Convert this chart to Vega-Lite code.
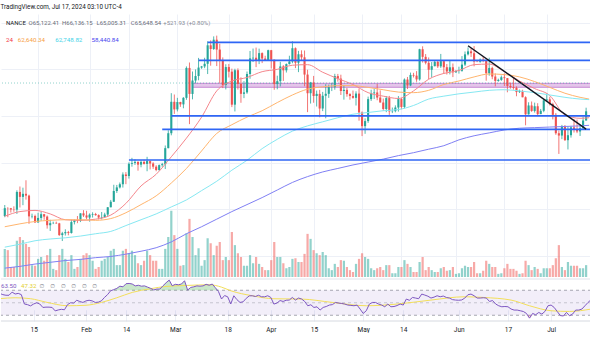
{
"$schema":"https://vega.github.io/schema/vega-lite/v6.json",
"padding":{"top":4,"left":0,"right":0,"bottom":0},
"background":"white",
"spacing":1,
"title":{"text":"TradingView.com, Jul 17, 2024 03:10 UTC-4","anchor":"start","fontSize":6.3,"font":"Roboto","fontWeight":"normal","color":"#131722","offset":3.7},
"config":{"view":{"stroke":null},"axis":{"domain":false,"ticks":false,"gridColor":"#edf0f7","gridWidth":1,"labelFont":"Roboto"}},
"datasets":{
"k":[
{"d":"2024-01-04","o":42.85,"h":44.73,"l":42.63,"c":44.19,"v":45},
{"d":"2024-01-05","o":44.19,"h":44.35,"l":42.63,"c":44.16,"v":43},
{"d":"2024-01-06","o":44.16,"h":44.23,"l":43.43,"c":43.97,"v":16},
{"d":"2024-01-07","o":43.97,"h":44.5,"l":43.57,"c":43.93,"v":16},
{"d":"2024-01-08","o":43.93,"h":47.25,"l":43.2,"c":46.97,"v":58},
{"d":"2024-01-09","o":46.97,"h":47.9,"l":44.3,"c":46.12,"v":64},
{"d":"2024-01-10","o":46.12,"h":47.7,"l":44.7,"c":46.65,"v":59},
{"d":"2024-01-11","o":46.65,"h":48.97,"l":45.65,"c":46.34,"v":53},
{"d":"2024-01-12","o":46.34,"h":46.5,"l":41.5,"c":42.78,"v":48},
{"d":"2024-01-13","o":42.78,"h":43.25,"l":42.44,"c":42.85,"v":19},
{"d":"2024-01-14","o":42.85,"h":43.08,"l":41.72,"c":41.73,"v":18},
{"d":"2024-01-15","o":41.73,"h":43.4,"l":41.72,"c":42.51,"v":29},
{"d":"2024-01-16","o":42.51,"h":43.58,"l":42.05,"c":43.15,"v":32},
{"d":"2024-01-17","o":43.15,"h":43.2,"l":42.2,"c":42.74,"v":26},
{"d":"2024-01-18","o":42.74,"h":42.93,"l":40.68,"c":41.26,"v":35},
{"d":"2024-01-19","o":41.26,"h":42.19,"l":40.28,"c":41.62,"v":45},
{"d":"2024-01-20","o":41.62,"h":41.87,"l":41.45,"c":41.66,"v":13},
{"d":"2024-01-21","o":41.66,"h":41.88,"l":41.5,"c":41.58,"v":11},
{"d":"2024-01-22","o":41.58,"h":41.67,"l":39.43,"c":39.57,"v":35},
{"d":"2024-01-23","o":39.57,"h":40.13,"l":38.55,"c":39.88,"v":45},
{"d":"2024-01-24","o":39.88,"h":40.56,"l":39.49,"c":40.08,"v":29},
{"d":"2024-01-25","o":40.08,"h":40.29,"l":39.53,"c":39.93,"v":24},
{"d":"2024-01-26","o":39.93,"h":42.2,"l":39.82,"c":41.8,"v":35},
{"d":"2024-01-27","o":41.8,"h":42.25,"l":41.4,"c":42.12,"v":13},
{"d":"2024-01-28","o":42.12,"h":42.84,"l":41.62,"c":42.03,"v":16},
{"d":"2024-01-29","o":42.03,"h":43.3,"l":41.8,"c":43.3,"v":29},
{"d":"2024-01-30","o":43.3,"h":43.84,"l":42.68,"c":42.94,"v":35},
{"d":"2024-01-31","o":42.94,"h":43.74,"l":42.27,"c":42.58,"v":38},
{"d":"2024-02-01","o":42.58,"h":43.29,"l":41.88,"c":43.08,"v":35},
{"d":"2024-02-02","o":43.08,"h":43.48,"l":42.58,"c":43.19,"v":26},
{"d":"2024-02-03","o":43.19,"h":43.38,"l":42.89,"c":42.99,"v":13},
{"d":"2024-02-04","o":42.99,"h":43.12,"l":42.26,"c":42.58,"v":16},
{"d":"2024-02-05","o":42.58,"h":43.53,"l":42.26,"c":42.66,"v":26},
{"d":"2024-02-06","o":42.66,"h":43.4,"l":42.57,"c":43.09,"v":29},
{"d":"2024-02-07","o":43.09,"h":44.38,"l":42.79,"c":44.34,"v":32},
{"d":"2024-02-08","o":44.34,"h":45.6,"l":44.33,"c":45.29,"v":42},
{"d":"2024-02-09","o":45.29,"h":48.2,"l":45.24,"c":47.13,"v":45},
{"d":"2024-02-10","o":47.13,"h":48.17,"l":46.8,"c":47.75,"v":19},
{"d":"2024-02-11","o":47.75,"h":48.59,"l":47.56,"c":48.29,"v":19},
{"d":"2024-02-12","o":48.29,"h":50.33,"l":47.72,"c":49.96,"v":42},
{"d":"2024-02-13","o":49.96,"h":50.37,"l":48.3,"c":49.7,"v":45},
{"d":"2024-02-14","o":49.7,"h":52.04,"l":49.26,"c":51.8,"v":38},
{"d":"2024-02-15","o":51.8,"h":52.82,"l":51.3,"c":51.94,"v":42},
{"d":"2024-02-16","o":51.94,"h":52.57,"l":51.6,"c":52.13,"v":35},
{"d":"2024-02-17","o":52.13,"h":52.2,"l":50.62,"c":51.65,"v":22},
{"d":"2024-02-18","o":51.65,"h":52.4,"l":51.2,"c":52.12,"v":19},
{"d":"2024-02-19","o":52.12,"h":52.49,"l":51.67,"c":51.78,"v":26},
{"d":"2024-02-20","o":51.78,"h":52.99,"l":50.52,"c":52.26,"v":42},
{"d":"2024-02-21","o":52.26,"h":52.37,"l":50.83,"c":51.85,"v":35},
{"d":"2024-02-22","o":51.85,"h":52.07,"l":50.93,"c":51.3,"v":26},
{"d":"2024-02-23","o":51.3,"h":51.55,"l":50.52,"c":50.73,"v":26},
{"d":"2024-02-24","o":50.73,"h":51.68,"l":50.58,"c":51.57,"v":13},
{"d":"2024-02-25","o":51.57,"h":51.96,"l":51.28,"c":51.73,"v":13},
{"d":"2024-02-26","o":51.73,"h":54.94,"l":50.9,"c":54.48,"v":45},
{"d":"2024-02-27","o":54.48,"h":57.55,"l":54.45,"c":57.04,"v":64},
{"d":"2024-02-28","o":57.04,"h":63.91,"l":56.68,"c":62.43,"v":106},
{"d":"2024-02-29","o":62.43,"h":63.68,"l":60.36,"c":61.13,"v":67},
{"d":"2024-03-01","o":61.13,"h":63.11,"l":60.78,"c":62.39,"v":45},
{"d":"2024-03-02","o":62.39,"h":62.43,"l":61.56,"c":61.99,"v":18},
{"d":"2024-03-03","o":61.99,"h":63.23,"l":61.32,"c":63.11,"v":19},
{"d":"2024-03-04","o":63.11,"h":68.5,"l":62.77,"c":68.24,"v":70},
{"d":"2024-03-05","o":68.24,"h":69.17,"l":58.6,"c":63.78,"v":93},
{"d":"2024-03-06","o":63.78,"h":67.63,"l":62.85,"c":66.08,"v":64},
{"d":"2024-03-07","o":66.08,"h":67.98,"l":65.6,"c":66.85,"v":35},
{"d":"2024-03-08","o":66.85,"h":69.96,"l":66.12,"c":68.3,"v":46},
{"d":"2024-03-09","o":68.3,"h":68.58,"l":68.08,"c":68.5,"v":18},
{"d":"2024-03-10","o":68.5,"h":69.98,"l":68.2,"c":68.95,"v":27},
{"d":"2024-03-11","o":68.95,"h":72.8,"l":67.19,"c":72.12,"v":62},
{"d":"2024-03-12","o":72.12,"h":72.97,"l":68.62,"c":71.48,"v":54},
{"d":"2024-03-13","o":71.48,"h":73.65,"l":71.33,"c":73.08,"v":35},
{"d":"2024-03-14","o":73.08,"h":73.78,"l":68.56,"c":71.39,"v":50},
{"d":"2024-03-15","o":71.39,"h":72.39,"l":65.63,"c":69.5,"v":56},
{"d":"2024-03-16","o":69.5,"h":70.04,"l":64.78,"c":65.3,"v":27},
{"d":"2024-03-17","o":65.3,"h":68.87,"l":64.55,"c":68.39,"v":32},
{"d":"2024-03-18","o":68.39,"h":68.92,"l":66.6,"c":67.6,"v":27},
{"d":"2024-03-19","o":67.6,"h":68.12,"l":61.52,"c":61.94,"v":72},
{"d":"2024-03-20","o":61.94,"h":68.1,"l":60.78,"c":67.85,"v":51},
{"d":"2024-03-21","o":67.85,"h":68.17,"l":64.53,"c":65.5,"v":38},
{"d":"2024-03-22","o":65.5,"h":66.63,"l":62.26,"c":63.8,"v":32},
{"d":"2024-03-23","o":63.8,"h":65.97,"l":63.06,"c":64.04,"v":18},
{"d":"2024-03-24","o":64.04,"h":67.62,"l":63.8,"c":67.2,"v":18},
{"d":"2024-03-25","o":67.2,"h":71.15,"l":66.38,"c":69.88,"v":35},
{"d":"2024-03-26","o":69.88,"h":71.56,"l":69.25,"c":69.99,"v":22},
{"d":"2024-03-27","o":69.99,"h":71.73,"l":68.38,"c":69.45,"v":32},
{"d":"2024-03-28","o":69.45,"h":71.55,"l":68.9,"c":70.78,"v":21},
{"d":"2024-03-29","o":70.78,"h":70.91,"l":69.07,"c":69.85,"v":16},
{"d":"2024-03-30","o":69.85,"h":70.33,"l":69.52,"c":69.58,"v":11},
{"d":"2024-03-31","o":69.58,"h":71.37,"l":69.56,"c":71.28,"v":11},
{"d":"2024-04-01","o":71.28,"h":71.33,"l":68.14,"c":69.65,"v":27},
{"d":"2024-04-02","o":69.65,"h":69.67,"l":64.49,"c":65.47,"v":56},
{"d":"2024-04-03","o":65.47,"h":66.91,"l":64.57,"c":65.97,"v":32},
{"d":"2024-04-04","o":65.97,"h":69.29,"l":65.07,"c":68.5,"v":32},
{"d":"2024-04-05","o":68.5,"h":68.72,"l":66.01,"c":67.83,"v":22},
{"d":"2024-04-06","o":67.83,"h":69.0,"l":67.45,"c":68.9,"v":14},
{"d":"2024-04-07","o":68.9,"h":70.33,"l":68.82,"c":69.35,"v":16},
{"d":"2024-04-08","o":69.35,"h":72.8,"l":69.04,"c":71.62,"v":29},
{"d":"2024-04-09","o":71.62,"h":71.76,"l":68.21,"c":69.13,"v":30},
{"d":"2024-04-10","o":69.13,"h":71.17,"l":67.52,"c":70.58,"v":24},
{"d":"2024-04-11","o":70.58,"h":71.26,"l":69.57,"c":70.06,"v":24},
{"d":"2024-04-12","o":70.06,"h":71.23,"l":65.09,"c":67.1,"v":37},
{"d":"2024-04-13","o":67.1,"h":67.93,"l":60.66,"c":63.9,"v":69},
{"d":"2024-04-14","o":63.9,"h":65.84,"l":62.13,"c":65.74,"v":61},
{"d":"2024-04-15","o":65.74,"h":66.87,"l":62.27,"c":63.42,"v":43},
{"d":"2024-04-16","o":63.42,"h":64.36,"l":61.62,"c":63.79,"v":38},
{"d":"2024-04-17","o":63.79,"h":64.48,"l":59.77,"c":61.28,"v":35},
{"d":"2024-04-18","o":61.28,"h":64.13,"l":60.83,"c":63.47,"v":40},
{"d":"2024-04-19","o":63.47,"h":65.45,"l":59.6,"c":63.8,"v":35},
{"d":"2024-04-20","o":63.8,"h":65.38,"l":63.1,"c":64.94,"v":14},
{"d":"2024-04-21","o":64.94,"h":65.7,"l":64.27,"c":64.94,"v":11},
{"d":"2024-04-22","o":64.94,"h":67.23,"l":64.5,"c":66.84,"v":21},
{"d":"2024-04-23","o":66.84,"h":67.21,"l":65.88,"c":66.41,"v":16},
{"d":"2024-04-24","o":66.41,"h":67.08,"l":63.6,"c":64.28,"v":27},
{"d":"2024-04-25","o":64.28,"h":65.29,"l":62.8,"c":64.48,"v":26},
{"d":"2024-04-26","o":64.48,"h":64.8,"l":63.3,"c":63.75,"v":16},
{"d":"2024-04-27","o":63.75,"h":63.9,"l":62.79,"c":63.42,"v":11},
{"d":"2024-04-28","o":63.42,"h":64.36,"l":62.96,"c":63.11,"v":8},
{"d":"2024-04-29","o":63.11,"h":64.23,"l":61.79,"c":63.84,"v":21},
{"d":"2024-04-30","o":63.84,"h":64.73,"l":59.19,"c":60.61,"v":29},
{"d":"2024-05-01","o":60.61,"h":60.78,"l":56.55,"c":58.25,"v":38},
{"d":"2024-05-02","o":58.25,"h":59.6,"l":56.94,"c":59.12,"v":32},
{"d":"2024-05-03","o":59.12,"h":63.32,"l":58.81,"c":62.89,"v":29},
{"d":"2024-05-04","o":62.89,"h":64.5,"l":62.58,"c":63.89,"v":14},
{"d":"2024-05-05","o":63.89,"h":64.66,"l":62.9,"c":64.03,"v":11},
{"d":"2024-05-06","o":64.03,"h":65.49,"l":62.7,"c":63.16,"v":14},
{"d":"2024-05-07","o":63.16,"h":64.39,"l":62.3,"c":62.31,"v":16},
{"d":"2024-05-08","o":62.31,"h":62.99,"l":60.89,"c":61.19,"v":11},
{"d":"2024-05-09","o":61.19,"h":63.41,"l":60.65,"c":63.07,"v":19},
{"d":"2024-05-10","o":63.07,"h":63.44,"l":60.19,"c":60.79,"v":19},
{"d":"2024-05-11","o":60.79,"h":61.45,"l":60.49,"c":60.83,"v":6},
{"d":"2024-05-12","o":60.83,"h":61.82,"l":60.63,"c":61.45,"v":6},
{"d":"2024-05-13","o":61.45,"h":63.42,"l":60.75,"c":62.9,"v":16},
{"d":"2024-05-14","o":62.9,"h":63.1,"l":61.15,"c":61.55,"v":16},
{"d":"2024-05-15","o":61.55,"h":66.44,"l":61.31,"c":66.25,"v":27},
{"d":"2024-05-16","o":66.25,"h":66.69,"l":64.61,"c":65.23,"v":21},
{"d":"2024-05-17","o":65.23,"h":67.44,"l":65.11,"c":67.04,"v":16},
{"d":"2024-05-18","o":67.04,"h":67.4,"l":66.6,"c":66.92,"v":8},
{"d":"2024-05-19","o":66.92,"h":67.69,"l":65.86,"c":66.27,"v":8},
{"d":"2024-05-20","o":66.27,"h":71.52,"l":66.06,"c":71.45,"v":24},
{"d":"2024-05-21","o":71.45,"h":71.95,"l":69.16,"c":70.14,"v":32},
{"d":"2024-05-22","o":70.14,"h":70.62,"l":68.85,"c":69.12,"v":11},
{"d":"2024-05-23","o":69.12,"h":70.04,"l":66.31,"c":67.93,"v":16},
{"d":"2024-05-24","o":67.93,"h":69.25,"l":66.6,"c":68.54,"v":11},
{"d":"2024-05-25","o":68.54,"h":69.6,"l":68.51,"c":69.29,"v":8},
{"d":"2024-05-26","o":69.29,"h":69.56,"l":68.23,"c":68.51,"v":8},
{"d":"2024-05-27","o":68.51,"h":70.64,"l":68.24,"c":69.4,"v":14},
{"d":"2024-05-28","o":69.4,"h":69.56,"l":67.23,"c":68.36,"v":16},
{"d":"2024-05-29","o":68.36,"h":68.91,"l":67.11,"c":67.63,"v":10},
{"d":"2024-05-30","o":67.63,"h":69.5,"l":67.13,"c":68.35,"v":11},
{"d":"2024-05-31","o":68.35,"h":69.0,"l":66.67,"c":67.49,"v":16},
{"d":"2024-06-01","o":67.49,"h":67.86,"l":67.39,"c":67.71,"v":5},
{"d":"2024-06-02","o":67.71,"h":68.45,"l":67.26,"c":67.75,"v":6},
{"d":"2024-06-03","o":67.75,"h":70.27,"l":67.59,"c":68.81,"v":14},
{"d":"2024-06-04","o":68.81,"h":71.06,"l":68.56,"c":70.57,"v":18},
{"d":"2024-06-05","o":70.57,"h":71.76,"l":70.38,"c":71.08,"v":16},
{"d":"2024-06-06","o":71.08,"h":71.63,"l":70.12,"c":70.76,"v":16},
{"d":"2024-06-07","o":70.76,"h":71.99,"l":68.51,"c":69.34,"v":24},
{"d":"2024-06-08","o":69.34,"h":69.58,"l":69.23,"c":69.3,"v":6},
{"d":"2024-06-09","o":69.3,"h":69.86,"l":69.13,"c":69.65,"v":6},
{"d":"2024-06-10","o":69.65,"h":70.15,"l":69.23,"c":69.5,"v":10},
{"d":"2024-06-11","o":69.5,"h":69.56,"l":66.05,"c":67.32,"v":26},
{"d":"2024-06-12","o":67.32,"h":69.99,"l":66.9,"c":68.24,"v":21},
{"d":"2024-06-13","o":68.24,"h":68.45,"l":66.3,"c":66.76,"v":16},
{"d":"2024-06-14","o":66.76,"h":67.3,"l":65.08,"c":66.01,"v":16},
{"d":"2024-06-15","o":66.01,"h":66.4,"l":65.87,"c":66.19,"v":5},
{"d":"2024-06-16","o":66.19,"h":66.93,"l":66.02,"c":66.64,"v":6},
{"d":"2024-06-17","o":66.64,"h":67.3,"l":65.13,"c":66.49,"v":14},
{"d":"2024-06-18","o":66.49,"h":66.49,"l":64.06,"c":65.15,"v":21},
{"d":"2024-06-19","o":65.15,"h":65.73,"l":64.69,"c":64.96,"v":13},
{"d":"2024-06-20","o":64.96,"h":66.48,"l":64.52,"c":64.83,"v":13},
{"d":"2024-06-21","o":64.83,"h":65.07,"l":63.38,"c":64.1,"v":10},
{"d":"2024-06-22","o":64.1,"h":64.52,"l":63.94,"c":64.26,"v":5},
{"d":"2024-06-23","o":64.26,"h":64.49,"l":63.21,"c":63.21,"v":6},
{"d":"2024-06-24","o":63.21,"h":63.37,"l":58.4,"c":60.28,"v":26},
{"d":"2024-06-25","o":60.28,"h":62.35,"l":60.24,"c":61.8,"v":19},
{"d":"2024-06-26","o":61.8,"h":62.48,"l":60.71,"c":60.86,"v":11},
{"d":"2024-06-27","o":60.86,"h":62.29,"l":60.58,"c":61.67,"v":16},
{"d":"2024-06-28","o":61.67,"h":62.19,"l":60.03,"c":60.32,"v":13},
{"d":"2024-06-29","o":60.32,"h":61.2,"l":60.32,"c":60.89,"v":6},
{"d":"2024-06-30","o":60.89,"h":62.89,"l":60.64,"c":62.68,"v":14},
{"d":"2024-07-01","o":62.68,"h":63.84,"l":62.5,"c":62.85,"v":14},
{"d":"2024-07-02","o":62.85,"h":63.29,"l":61.8,"c":62.03,"v":14},
{"d":"2024-07-03","o":62.03,"h":62.27,"l":59.41,"c":60.2,"v":19},
{"d":"2024-07-04","o":60.2,"h":60.5,"l":56.77,"c":57.04,"v":30},
{"d":"2024-07-05","o":57.04,"h":57.5,"l":53.49,"c":56.64,"v":51},
{"d":"2024-07-06","o":56.64,"h":58.47,"l":56.02,"c":58.23,"v":16},
{"d":"2024-07-07","o":58.23,"h":58.45,"l":55.72,"c":55.85,"v":11},
{"d":"2024-07-08","o":55.85,"h":58.24,"l":54.26,"c":56.7,"v":24},
{"d":"2024-07-09","o":56.7,"h":58.3,"l":56.29,"c":58.05,"v":18},
{"d":"2024-07-10","o":58.05,"h":59.47,"l":57.16,"c":57.72,"v":18},
{"d":"2024-07-11","o":57.72,"h":59.37,"l":57.06,"c":57.34,"v":18},
{"d":"2024-07-12","o":57.34,"h":58.53,"l":56.57,"c":57.9,"v":14},
{"d":"2024-07-13","o":57.9,"h":59.85,"l":57.77,"c":59.22,"v":14},
{"d":"2024-07-14","o":59.22,"h":61.42,"l":59.22,"c":60.8,"v":19}
],
"ma":[
{"d":"2024-01-04","m20":42.8,"m50":41.0,"m100":37.5,"m200":33.9},
{"d":"2024-01-09","m20":43.6,"m50":41.5,"m100":38.0,"m200":34.2},
{"d":"2024-01-14","m20":43.8,"m50":41.9,"m100":38.6,"m200":34.6},
{"d":"2024-01-19","m20":43.2,"m50":42.1,"m100":38.9,"m200":34.9},
{"d":"2024-01-24","m20":42.2,"m50":42.2,"m100":39.1,"m200":35.2},
{"d":"2024-01-29","m20":42.1,"m50":42.2,"m100":39.4,"m200":35.4},
{"d":"2024-02-03","m20":42.3,"m50":42.1,"m100":39.8,"m200":35.7},
{"d":"2024-02-08","m20":43.0,"m50":42.4,"m100":40.2,"m200":35.9},
{"d":"2024-02-13","m20":45.0,"m50":43.4,"m100":41.2,"m200":36.3},
{"d":"2024-02-18","m20":48.0,"m50":44.8,"m100":42.2,"m200":36.8},
{"d":"2024-02-23","m20":50.0,"m50":46.3,"m100":43.2,"m200":37.4},
{"d":"2024-02-28","m20":53.0,"m50":48.5,"m100":44.4,"m200":38.4},
{"d":"2024-03-04","m20":56.2,"m50":51.0,"m100":45.6,"m200":39.8},
{"d":"2024-03-09","m20":59.8,"m50":54.0,"m100":47.2,"m200":41.0},
{"d":"2024-03-14","m20":64.3,"m50":57.0,"m100":48.8,"m200":42.3},
{"d":"2024-03-19","m20":66.0,"m50":58.5,"m100":50.7,"m200":43.6},
{"d":"2024-03-24","m20":66.6,"m50":59.8,"m100":52.4,"m200":44.8},
{"d":"2024-03-29","m20":67.6,"m50":60.9,"m100":54.4,"m200":46.0},
{"d":"2024-04-03","m20":68.0,"m50":62.3,"m100":56.0,"m200":47.3},
{"d":"2024-04-08","m20":68.7,"m50":63.6,"m100":57.4,"m200":48.6},
{"d":"2024-04-13","m20":68.8,"m50":64.6,"m100":58.3,"m200":49.6},
{"d":"2024-04-18","m20":67.5,"m50":65.0,"m100":59.0,"m200":50.4},
{"d":"2024-04-23","m20":66.4,"m50":65.2,"m100":59.7,"m200":51.0},
{"d":"2024-04-28","m20":65.4,"m50":65.2,"m100":60.3,"m200":51.6},
{"d":"2024-05-03","m20":64.0,"m50":64.9,"m100":60.6,"m200":52.1},
{"d":"2024-05-08","m20":63.4,"m50":64.5,"m100":60.9,"m200":52.6},
{"d":"2024-05-13","m20":63.0,"m50":64.1,"m100":61.1,"m200":53.2},
{"d":"2024-05-18","m20":64.3,"m50":64.0,"m100":61.8,"m200":53.7},
{"d":"2024-05-23","m20":66.3,"m50":64.4,"m100":62.9,"m200":54.3},
{"d":"2024-05-28","m20":67.3,"m50":65.4,"m100":63.4,"m200":54.9},
{"d":"2024-06-02","m20":67.8,"m50":66.0,"m100":63.8,"m200":55.9},
{"d":"2024-06-07","m20":68.8,"m50":66.7,"m100":64.1,"m200":56.6},
{"d":"2024-06-12","m20":68.9,"m50":67.2,"m100":64.4,"m200":57.1},
{"d":"2024-06-17","m20":67.6,"m50":67.1,"m100":64.5,"m200":57.6},
{"d":"2024-06-22","m20":66.0,"m50":66.7,"m100":64.3,"m200":57.9},
{"d":"2024-06-27","m20":64.7,"m50":65.9,"m100":64.0,"m200":58.0},
{"d":"2024-07-02","m20":63.5,"m50":64.9,"m100":63.6,"m200":58.1},
{"d":"2024-07-07","m20":60.2,"m50":63.9,"m100":63.2,"m200":58.2},
{"d":"2024-07-12","m20":59.6,"m50":63.2,"m100":62.9,"m200":58.3},
{"d":"2024-07-15","m20":59.7,"m50":62.9,"m100":62.8,"m200":58.4}
],
"rsi":[
{"d":"2024-01-04","r":65},{"d":"2024-01-05","r":63},{"d":"2024-01-06","r":62},{"d":"2024-01-07","r":62},{"d":"2024-01-08","r":67},{"d":"2024-01-09","r":64},{"d":"2024-01-10","r":65},{"d":"2024-01-11","r":63},{"d":"2024-01-12","r":48},{"d":"2024-01-13","r":47},{"d":"2024-01-14","r":45},{"d":"2024-01-15","r":48},{"d":"2024-01-16","r":50},{"d":"2024-01-17","r":48},{"d":"2024-01-18","r":42.5},{"d":"2024-01-19","r":43},{"d":"2024-01-20","r":43},{"d":"2024-01-21","r":42.5},{"d":"2024-01-22","r":37},{"d":"2024-01-23","r":38.5},{"d":"2024-01-24","r":39.5},{"d":"2024-01-25","r":38.8},{"d":"2024-01-26","r":47},{"d":"2024-01-27","r":50},{"d":"2024-01-28","r":49.5},{"d":"2024-01-29","r":54},{"d":"2024-01-30","r":52},{"d":"2024-01-31","r":50.5},
{"d":"2024-02-01","r":53},{"d":"2024-02-02","r":54},{"d":"2024-02-03","r":53},{"d":"2024-02-04","r":50.5},{"d":"2024-02-05","r":51},{"d":"2024-02-06","r":53},{"d":"2024-02-07","r":58.5},{"d":"2024-02-08","r":63},{"d":"2024-02-09","r":69.2},{"d":"2024-02-10","r":71},{"d":"2024-02-11","r":73},{"d":"2024-02-12","r":76.5},{"d":"2024-02-13","r":75.5},{"d":"2024-02-14","r":80.5},{"d":"2024-02-15","r":80.9},{"d":"2024-02-16","r":80},{"d":"2024-02-17","r":77},{"d":"2024-02-18","r":78},{"d":"2024-02-19","r":76.5},{"d":"2024-02-20","r":77},{"d":"2024-02-21","r":75},{"d":"2024-02-22","r":73},{"d":"2024-02-23","r":70.5},{"d":"2024-02-24","r":71.9},{"d":"2024-02-25","r":72},{"d":"2024-02-26","r":77.2},{"d":"2024-02-27","r":82},{"d":"2024-02-28","r":86.3},{"d":"2024-02-29","r":77.2},
{"d":"2024-03-01","r":79.5},{"d":"2024-03-02","r":78.8},{"d":"2024-03-03","r":80},{"d":"2024-03-04","r":85.2},{"d":"2024-03-05","r":70.3},{"d":"2024-03-06","r":74.5},{"d":"2024-03-07","r":75.5},{"d":"2024-03-08","r":77},{"d":"2024-03-09","r":76.5},{"d":"2024-03-10","r":77},{"d":"2024-03-11","r":79.5},{"d":"2024-03-12","r":78},{"d":"2024-03-13","r":79.9},{"d":"2024-03-14","r":74},{"d":"2024-03-15","r":68},{"d":"2024-03-16","r":56},{"d":"2024-03-17","r":61.5},{"d":"2024-03-18","r":59.5},{"d":"2024-03-19","r":48},{"d":"2024-03-20","r":61.2},{"d":"2024-03-21","r":55},{"d":"2024-03-22","r":50.5},{"d":"2024-03-23","r":51.5},{"d":"2024-03-24","r":57},{"d":"2024-03-25","r":61},{"d":"2024-03-26","r":61.2},{"d":"2024-03-27","r":60},{"d":"2024-03-28","r":62},{"d":"2024-03-29","r":59.6},{"d":"2024-03-30","r":59.5},{"d":"2024-03-31","r":61.2},
{"d":"2024-04-01","r":58.5},{"d":"2024-04-02","r":47.9},{"d":"2024-04-03","r":49.5},{"d":"2024-04-04","r":53.5},{"d":"2024-04-05","r":52.1},{"d":"2024-04-06","r":54},{"d":"2024-04-07","r":54.3},{"d":"2024-04-08","r":58.5},{"d":"2024-04-09","r":54.3},{"d":"2024-04-10","r":57.5},{"d":"2024-04-11","r":56},{"d":"2024-04-12","r":52.1},{"d":"2024-04-13","r":45.2},{"d":"2024-04-14","r":46.8},{"d":"2024-04-15","r":42.5},{"d":"2024-04-16","r":43.5},{"d":"2024-04-17","r":38.3},{"d":"2024-04-18","r":42.5},{"d":"2024-04-19","r":44},{"d":"2024-04-20","r":46.3},{"d":"2024-04-21","r":47},{"d":"2024-04-22","r":50.5},{"d":"2024-04-23","r":49.5},{"d":"2024-04-24","r":48.9},{"d":"2024-04-25","r":47.9},{"d":"2024-04-26","r":46.3},{"d":"2024-04-27","r":45.8},{"d":"2024-04-28","r":45.2},{"d":"2024-04-29","r":46.3},{"d":"2024-04-30","r":39.9},
{"d":"2024-05-01","r":32.9},{"d":"2024-05-02","r":37.2},{"d":"2024-05-03","r":47.9},{"d":"2024-05-04","r":50.5},{"d":"2024-05-05","r":50.5},{"d":"2024-05-06","r":47.9},{"d":"2024-05-07","r":46.3},{"d":"2024-05-08","r":43.6},{"d":"2024-05-09","r":47.9},{"d":"2024-05-10","r":43.6},{"d":"2024-05-11","r":44},{"d":"2024-05-12","r":45.5},{"d":"2024-05-13","r":48},{"d":"2024-05-14","r":46.3},{"d":"2024-05-15","r":55.9},{"d":"2024-05-16","r":54},{"d":"2024-05-17","r":58.5},{"d":"2024-05-18","r":57.5},{"d":"2024-05-19","r":56.5},{"d":"2024-05-20","r":63.9},{"d":"2024-05-21","r":62.3},{"d":"2024-05-22","r":60.5},{"d":"2024-05-23","r":57.5},{"d":"2024-05-24","r":59},{"d":"2024-05-25","r":61.2},{"d":"2024-05-26","r":59.6},{"d":"2024-05-27","r":60.7},{"d":"2024-05-28","r":58.5},{"d":"2024-05-29","r":57.5},{"d":"2024-05-30","r":55},{"d":"2024-05-31","r":54.3},
{"d":"2024-06-01","r":54},{"d":"2024-06-02","r":54.5},{"d":"2024-06-03","r":57.5},{"d":"2024-06-04","r":62.8},{"d":"2024-06-05","r":63.9},{"d":"2024-06-06","r":61.2},{"d":"2024-06-07","r":57.5},{"d":"2024-06-08","r":57.5},{"d":"2024-06-09","r":58},{"d":"2024-06-10","r":57.5},{"d":"2024-06-11","r":52.1},{"d":"2024-06-12","r":53.5},{"d":"2024-06-13","r":48},{"d":"2024-06-14","r":45.2},{"d":"2024-06-15","r":43.6},{"d":"2024-06-16","r":44},{"d":"2024-06-17","r":43.6},{"d":"2024-06-18","r":40},{"d":"2024-06-19","r":38.3},{"d":"2024-06-20","r":38.3},{"d":"2024-06-21","r":37.2},{"d":"2024-06-22","r":36},{"d":"2024-06-23","r":32.9},{"d":"2024-06-24","r":25.4},{"d":"2024-06-25","r":32.9},{"d":"2024-06-26","r":30.8},{"d":"2024-06-27","r":34.5},{"d":"2024-06-28","r":31.9},{"d":"2024-06-29","r":36.1},{"d":"2024-06-30","r":45.2},
{"d":"2024-07-01","r":46.3},{"d":"2024-07-02","r":42.5},{"d":"2024-07-03","r":36},{"d":"2024-07-04","r":29.5},{"d":"2024-07-05","r":28.8},{"d":"2024-07-06","r":34.5},{"d":"2024-07-07","r":29.2},{"d":"2024-07-08","r":32},{"d":"2024-07-09","r":38.3},{"d":"2024-07-10","r":38.3},{"d":"2024-07-11","r":39.9},{"d":"2024-07-12","r":45.2},{"d":"2024-07-13","r":50.5},{"d":"2024-07-14","r":55}
],
"rma":[
{"d":"2024-01-04","m":56.5},{"d":"2024-01-09","m":58},{"d":"2024-01-14","m":56.5},{"d":"2024-01-19","m":51},{"d":"2024-01-26","m":45.2},{"d":"2024-02-01","m":46},{"d":"2024-02-06","m":50.5},{"d":"2024-02-11","m":58},{"d":"2024-02-16","m":66.5},{"d":"2024-02-22","m":72.5},{"d":"2024-02-27","m":76.1},{"d":"2024-03-05","m":77.7},{"d":"2024-03-12","m":78.8},{"d":"2024-03-16","m":75},{"d":"2024-03-19","m":69.2},{"d":"2024-03-26","m":61.2},{"d":"2024-04-02","m":56.4},{"d":"2024-04-11","m":55.9},{"d":"2024-04-21","m":50.5},{"d":"2024-05-02","m":45.2},{"d":"2024-05-12","m":47.9},{"d":"2024-05-23","m":54.3},{"d":"2024-06-03","m":59.6},{"d":"2024-06-09","m":58.5},{"d":"2024-06-18","m":54.3},{"d":"2024-06-24","m":45.2},{"d":"2024-07-01","m":37.2},{"d":"2024-07-07","m":36.1},{"d":"2024-07-14","m":39.9}
],
"lv":[
{"s":"2024-03-11","p":72.63},{"s":"2024-03-08","p":69.55},{"s":"2024-02-28","p":60.0},{"s":"2024-02-25","p":57.71},{"s":"2024-02-14","p":52.45}
],
"tl":[{"d":"2024-06-05","p":72.05},{"d":"2024-07-14","p":57.75}]
},
"vconcat":[
{
"width":590,"height":263,
"resolve":{"scale":{"y":"independent"}},
"layer":[
{"data":{"name":"k"},
 "mark":{"type":"bar","size":2.2,"opacity":0.5,"clip":true},
 "encoding":{
  "x":{"field":"d","type":"temporal","scale":{"type":"utc","domain":[{"year":2024,"month":1,"date":4,"hours":9,"minutes":40,"utc":true},{"year":2024,"month":7,"date":13,"hours":23,"minutes":3,"utc":true}]},
   "axis":{"values":[{"year":2024,"month":1,"date":15,"utc":true},{"year":2024,"month":2,"date":1,"utc":true},{"year":2024,"month":2,"date":14,"utc":true},{"year":2024,"month":3,"date":1,"utc":true},{"year":2024,"month":3,"date":18,"utc":true},{"year":2024,"month":4,"date":1,"utc":true},{"year":2024,"month":4,"date":15,"utc":true},{"year":2024,"month":5,"date":1,"utc":true},{"year":2024,"month":5,"date":14,"utc":true},{"year":2024,"month":6,"date":1,"utc":true},{"year":2024,"month":6,"date":17,"utc":true},{"year":2024,"month":7,"date":1,"utc":true}],"labels":false,"ticks":false,"domain":false,"title":null,"grid":true}},
  "y":{"field":"v","type":"quantitative","scale":{"domain":[0,420.8],"nice":false,"zero":true},"axis":null},
  "color":{"condition":{"test":"datum.c >= datum.o","value":"#26a69a"},"value":"#ef5350"}
 }},
{"layer":[
 {"data":{"values":[{"s":"2024-03-06","hi":65.6,"lo":64.92}]},
  "mark":{"type":"rect","fill":"#e4c6ea","stroke":"#c27fd0","strokeWidth":0.9,"clip":true},
  "encoding":{
   "x":{"field":"s","type":"temporal"},
   "x2":{"datum":{"year":2024,"month":8,"date":1,"utc":true}},
   "y":{"field":"hi","type":"quantitative","scale":{"domain":[32.38,77.49],"nice":false,"zero":false},
    "axis":{"values":[36,40,44,48,52,56,60,64,68,72,76],"labels":false,"ticks":false,"domain":false,"title":null,"grid":true}},
   "y2":{"field":"lo"}
  }},
 {"data":{"name":"k"},
  "mark":{"type":"rule","strokeWidth":0.8,"clip":true},
  "encoding":{
   "x":{"field":"d","type":"temporal"},
   "y":{"field":"l","type":"quantitative"},
   "y2":{"field":"h"},
   "color":{"condition":{"test":"datum.c >= datum.o","value":"#26a69a"},"value":"#ef5350"}
  }},
 {"data":{"name":"k"},
  "mark":{"type":"bar","size":2.1,"clip":true},
  "encoding":{
   "x":{"field":"d","type":"temporal"},
   "y":{"field":"o","type":"quantitative"},
   "y2":{"field":"c"},
   "color":{"condition":{"test":"datum.c >= datum.o","value":"#26a69a"},"value":"#ef5350"}
  }},
 {"data":{"name":"ma"},
  "transform":[{"fold":["m20","m50","m100","m200"],"as":["ser","val"]}],
  "mark":{"type":"line","strokeWidth":1,"clip":true,"interpolate":"monotone"},
  "encoding":{
   "x":{"field":"d","type":"temporal"},
   "y":{"field":"val","type":"quantitative"},
   "color":{"field":"ser","type":"nominal","scale":{"domain":["m20","m50","m100","m200"],"range":["#f5868c","#ffb56e","#86e8f2","#8080f4"]},"legend":null}
  }},
 {"data":{"name":"lv"},
  "mark":{"type":"rule","color":"#2f66f5","strokeWidth":1.7,"clip":true},
  "encoding":{
   "x":{"field":"s","type":"temporal"},
   "x2":{"datum":{"year":2024,"month":8,"date":1,"utc":true}},
   "y":{"field":"p","type":"quantitative"}
  }},
 {"data":{"name":"tl"},
  "mark":{"type":"line","color":"#131722","strokeWidth":1.4,"clip":true},
  "encoding":{
   "x":{"field":"d","type":"temporal"},
   "y":{"field":"p","type":"quantitative"}
  }},
 {"data":{"values":[{}]},
  "mark":{"type":"rule","color":"#26a69a","strokeWidth":1,"strokeDash":[1,2],"opacity":0.5},
  "encoding":{"y":{"datum":65.65,"type":"quantitative"}}},
 {"data":{"values":[{}]},"mark":{"type":"text","text":"NANCE","font":"Roboto","fontSize":6,"color":"#131722","align":"left","baseline":"middle"},
  "encoding":{"x":{"datum":{"year":2024,"month":1,"date":4,"hours":9,"minutes":40,"utc":true},"type":"temporal"},"y":{"datum":76.0,"type":"quantitative"}}},
 {"data":{"values":[{}]},"mark":{"type":"text","text":"O65,122.41","font":"Roboto","fontSize":6,"color":"#6a6d78","align":"left","baseline":"middle"},
  "encoding":{"x":{"datum":{"year":2024,"month":1,"date":11,"hours":21,"utc":true},"type":"temporal"},"y":{"datum":76.0,"type":"quantitative"}}},
 {"data":{"values":[{}]},"mark":{"type":"text","text":"H66,136.15","font":"Roboto","fontSize":6,"color":"#6a6d78","align":"left","baseline":"middle"},
  "encoding":{"x":{"datum":{"year":2024,"month":1,"date":22,"hours":22,"utc":true},"type":"temporal"},"y":{"datum":76.0,"type":"quantitative"}}},
 {"data":{"values":[{}]},"mark":{"type":"text","text":"L65,005.31","font":"Roboto","fontSize":6,"color":"#6a6d78","align":"left","baseline":"middle"},
  "encoding":{"x":{"datum":{"year":2024,"month":2,"date":3,"hours":6,"minutes":30,"utc":true},"type":"temporal"},"y":{"datum":76.0,"type":"quantitative"}}},
 {"data":{"values":[{}]},"mark":{"type":"text","text":"C65,648.54","font":"Roboto","fontSize":6,"color":"#6a6d78","align":"left","baseline":"middle"},
  "encoding":{"x":{"datum":{"year":2024,"month":2,"date":14,"hours":15,"minutes":20,"utc":true},"type":"temporal"},"y":{"datum":76.0,"type":"quantitative"}}},
 {"data":{"values":[{}]},"mark":{"type":"text","text":"+521.93 (+0.80%)","font":"Roboto","fontSize":6,"color":"#8a8d96","align":"left","baseline":"middle"},
  "encoding":{"x":{"datum":{"year":2024,"month":2,"date":25,"hours":8,"minutes":30,"utc":true},"type":"temporal"},"y":{"datum":76.0,"type":"quantitative"}}},
 {"data":{"values":[{}]},"mark":{"type":"text","text":"24","font":"Roboto","fontSize":6.2,"color":"#f23645","align":"left","baseline":"middle"},
  "encoding":{"x":{"datum":{"year":2024,"month":1,"date":4,"hours":9,"minutes":40,"utc":true},"type":"temporal"},"y":{"datum":73.03,"type":"quantitative"}}},
 {"data":{"values":[{}]},"mark":{"type":"text","text":"62,640.34","font":"Roboto","fontSize":6.2,"color":"#f7a043","align":"left","baseline":"middle"},
  "encoding":{"x":{"datum":{"year":2024,"month":1,"date":8,"hours":7,"minutes":10,"utc":true},"type":"temporal"},"y":{"datum":73.03,"type":"quantitative"}}},
 {"data":{"values":[{}]},"mark":{"type":"text","text":"62,748.82","font":"Roboto","fontSize":6.2,"color":"#3fd3e8","align":"left","baseline":"middle"},
  "encoding":{"x":{"datum":{"year":2024,"month":1,"date":20,"hours":15,"minutes":20,"utc":true},"type":"temporal"},"y":{"datum":73.03,"type":"quantitative"}}},
 {"data":{"values":[{}]},"mark":{"type":"text","text":"58,440.84","font":"Roboto","fontSize":6.2,"color":"#4646ee","align":"left","baseline":"middle"},
  "encoding":{"x":{"datum":{"year":2024,"month":2,"date":1,"hours":15,"minutes":40,"utc":true},"type":"temporal"},"y":{"datum":73.03,"type":"quantitative"}}}
]}
]
},
{
"width":590,"height":42,
"resolve":{"scale":{"y":"independent"}},
"layer":[
{"data":{"values":[{}]},
 "layer":[
  {"mark":{"type":"rect","color":"#7e57c2","opacity":0.1},
   "encoding":{"y":{"datum":70,"type":"quantitative","scale":{"domain":[20.8,88],"nice":false,"zero":false},"axis":null},"y2":{"datum":30}}},
  {"mark":{"type":"rule","color":"#787b86","strokeDash":[3,3],"strokeWidth":0.8,"opacity":0.8},"encoding":{"y":{"datum":70,"type":"quantitative"}}},
  {"mark":{"type":"rule","color":"#787b86","strokeDash":[3,3],"strokeWidth":0.8,"opacity":0.45},"encoding":{"y":{"datum":50,"type":"quantitative"}}},
  {"mark":{"type":"rule","color":"#787b86","strokeDash":[3,3],"strokeWidth":0.8,"opacity":0.8},"encoding":{"y":{"datum":30,"type":"quantitative"}}},
  {"mark":{"type":"rule","color":"#e0e3eb","strokeWidth":1},"encoding":{"y":{"datum":88,"type":"quantitative"}}},
  {"mark":{"type":"rule","color":"#d6d9e0","strokeWidth":1},"encoding":{"y":{"datum":20.8,"type":"quantitative"}}}
 ]},
{"data":{"name":"rsi"},
 "mark":{"type":"area","color":"#4caf50","opacity":0.3,"clip":true},
 "encoding":{
  "x":{"field":"d","type":"temporal","scale":{"type":"utc","domain":[{"year":2024,"month":1,"date":4,"hours":9,"minutes":40,"utc":true},{"year":2024,"month":7,"date":13,"hours":23,"minutes":3,"utc":true}]},
   "axis":{"values":[{"year":2024,"month":1,"date":15,"utc":true},{"year":2024,"month":2,"date":1,"utc":true},{"year":2024,"month":2,"date":14,"utc":true},{"year":2024,"month":3,"date":1,"utc":true},{"year":2024,"month":3,"date":18,"utc":true},{"year":2024,"month":4,"date":1,"utc":true},{"year":2024,"month":4,"date":15,"utc":true},{"year":2024,"month":5,"date":1,"utc":true},{"year":2024,"month":5,"date":14,"utc":true},{"year":2024,"month":6,"date":1,"utc":true},{"year":2024,"month":6,"date":17,"utc":true},{"year":2024,"month":7,"date":1,"utc":true}],
    "grid":true,"ticks":false,"tickSize":0,"domain":false,"title":null,"labelExpr":"utcdate(datum.value) == 1 ? utcFormat(datum.value, '%b') : utcFormat(datum.value, '%d')","labelFontSize":6.5,"labelColor":"#131722","labelPadding":5,"labelFont":"Roboto"}},
  "y":{"field":"r","type":"quantitative","scale":{"domain":[70,88],"range":[11.25,0],"clamp":true,"nice":false,"zero":false},"axis":null},
  "y2":{"datum":70}
 }},
{"data":{"name":"rsi"},
 "mark":{"type":"area","color":"#f23645","opacity":0.2,"clip":true},
 "encoding":{
  "x":{"field":"d","type":"temporal"},
  "y":{"field":"r","type":"quantitative","scale":{"domain":[20.8,30],"range":[42,36.25],"clamp":true,"nice":false,"zero":false},"axis":null},
  "y2":{"datum":30}
 }},
{"layer":[
 {"data":{"name":"rma"},
  "mark":{"type":"line","color":"#f2df5a","strokeWidth":1,"clip":true,"interpolate":"monotone"},
  "encoding":{"x":{"field":"d","type":"temporal"},"y":{"field":"m","type":"quantitative","scale":{"domain":[20.8,88],"nice":false,"zero":false},"axis":null}}},
 {"data":{"name":"rsi"},
  "mark":{"type":"line","color":"#7e57c2","strokeWidth":1,"clip":true},
  "encoding":{"x":{"field":"d","type":"temporal"},"y":{"field":"r","type":"quantitative"}}},
 {"data":{"values":[{}]},"mark":{"type":"text","text":"63.50","font":"Roboto","fontSize":6.2,"color":"#7e57c2","align":"left","baseline":"middle"},
  "encoding":{"x":{"datum":{"year":2024,"month":1,"date":4,"hours":9,"minutes":40,"utc":true},"type":"temporal"},"y":{"datum":77.3,"type":"quantitative"}}},
 {"data":{"values":[{}]},"mark":{"type":"text","text":"47.32","font":"Roboto","fontSize":6.2,"color":"#e3cf2e","align":"left","baseline":"middle"},
  "encoding":{"x":{"datum":{"year":2024,"month":1,"date":10,"hours":21,"minutes":30,"utc":true},"type":"temporal"},"y":{"datum":77.3,"type":"quantitative"}}},
 {"data":{"values":[{}]},"mark":{"type":"text","text":"∅","font":"DejaVu Sans","fontSize":5.5,"color":"#787b86","align":"center","baseline":"middle"},
  "encoding":{"x":{"datum":{"year":2024,"month":1,"date":17,"hours":17,"utc":true},"type":"temporal"},"y":{"datum":77.3,"type":"quantitative"}}},
 {"data":{"values":[{}]},"mark":{"type":"text","text":"∅","font":"DejaVu Sans","fontSize":5.5,"color":"#787b86","align":"center","baseline":"middle"},
  "encoding":{"x":{"datum":{"year":2024,"month":1,"date":21,"hours":4,"minutes":30,"utc":true},"type":"temporal"},"y":{"datum":77.3,"type":"quantitative"}}},
 {"data":{"values":[{}]},"mark":{"type":"text","text":"∅","font":"DejaVu Sans","fontSize":5.5,"color":"#787b86","align":"center","baseline":"middle"},
  "encoding":{"x":{"datum":{"year":2024,"month":1,"date":24,"hours":15,"minutes":10,"utc":true},"type":"temporal"},"y":{"datum":77.3,"type":"quantitative"}}},
 {"data":{"values":[{}]},"mark":{"type":"text","text":"∅","font":"DejaVu Sans","fontSize":5.5,"color":"#787b86","align":"center","baseline":"middle"},
  "encoding":{"x":{"datum":{"year":2024,"month":1,"date":28,"hours":0,"utc":true},"type":"temporal"},"y":{"datum":77.3,"type":"quantitative"}}},
 {"data":{"values":[{}]},"mark":{"type":"text","text":"∅","font":"DejaVu Sans","fontSize":5.5,"color":"#787b86","align":"center","baseline":"middle"},
  "encoding":{"x":{"datum":{"year":2024,"month":1,"date":31,"hours":10,"minutes":50,"utc":true},"type":"temporal"},"y":{"datum":77.3,"type":"quantitative"}}},
 {"data":{"values":[{}]},"mark":{"type":"text","text":"∅","font":"DejaVu Sans","fontSize":5.5,"color":"#787b86","align":"center","baseline":"middle"},
  "encoding":{"x":{"datum":{"year":2024,"month":2,"date":3,"hours":19,"minutes":40,"utc":true},"type":"temporal"},"y":{"datum":77.3,"type":"quantitative"}}}
]}
]
}
]
}
